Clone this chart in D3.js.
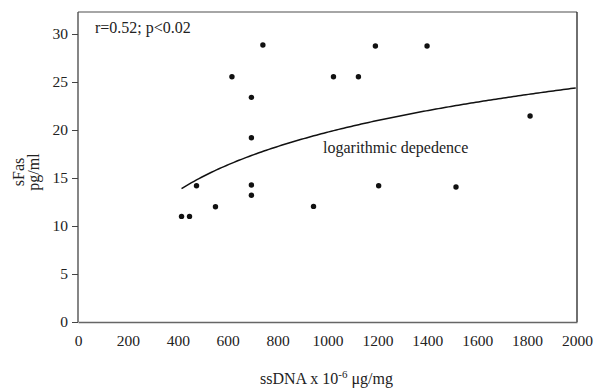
<!DOCTYPE html>
<html>
<head>
<meta charset="utf-8">
<script src="https://cdn.jsdelivr.net/npm/d3@7"></script>
<style>
  body { margin: 0; background: #fff; }
  svg text { font-family: "Liberation Serif", "Times New Roman", serif; fill: #222; }
</style>
</head>
<body>
<div id="chart"></div>
<script>
// values
const ssDNA = [415, 447, 475, 551, 617, 695, 695, 695, 695, 741, 944, 1024, 1124, 1192, 1205, 1399, 1515, 1812];
const sFas = [11, 11, 14.2, 12, 25.55, 23.4, 19.2, 14.27, 13.2, 28.85, 12.04, 25.55, 25.55, 28.75, 14.2, 28.75, 14.06, 21.46];
const xTicks = [0, 200, 400, 600, 800, 1000, 1200, 1400, 1600, 1800, 2000];
const yTicks = [0, 5, 10, 15, 20, 25, 30];
// logarithmic fit y = a + b*ln(x), coefficients
const fitA = -26.34;
const fitB = 6.675;
const fitRange = [415, 2000];

const width = 598, height = 390;
const margin = { top: 12, right: 21, bottom: 68, left: 78 };
const innerWidth = width - margin.left - margin.right;
const innerHeight = height - margin.top - margin.bottom;
const serif = '"Liberation Serif", "Times New Roman", serif';

const svg = d3.select('#chart')
  .append('svg')
  .attr('width', width)
  .attr('height', height);

const g = svg.append('g')
  .attr('transform', 'translate(' + margin.left + ',' + margin.top + ')');

const x = d3.scaleLinear().domain([0, 2000]).range([0, innerWidth]);
const y = d3.scaleLinear().domain([0, 30]).range([innerHeight, innerHeight - 288]);

// frame: top and right
g.append('line')
  .attr('x1', 0).attr('x2', innerWidth)
  .attr('y1', 0).attr('y2', 0)
  .attr('stroke', '#888').attr('stroke-width', 1.3);
g.append('line')
  .attr('x1', innerWidth).attr('x2', innerWidth)
  .attr('y1', 0).attr('y2', innerHeight)
  .attr('stroke', '#222').attr('stroke-width', 1.3);

// x axis
const xAxis = g.append('g')
  .attr('transform', 'translate(0,' + innerHeight + ')')
  .call(d3.axisBottom(x).tickValues(xTicks).tickFormat(d3.format('d')).tickSize(0).tickPadding(13))
  .attr('font-family', serif)
  .attr('font-size', 15.5);
xAxis.select('.domain').attr('stroke', '#666').attr('stroke-width', 1.3);
xAxis.selectAll('text').attr('fill', '#222');

// y axis
const yAxis = g.append('g')
  .call(d3.axisLeft(y).tickValues(yTicks).tickFormat(d3.format('d')).tickSize(6).tickSizeOuter(0).tickPadding(4))
  .attr('font-family', serif)
  .attr('font-size', 15.5);
yAxis.select('.domain').attr('d', 'M0,' + innerHeight + 'V0').attr('stroke', '#444').attr('stroke-width', 1.3);
yAxis.selectAll('.tick line').attr('stroke', '#444');
yAxis.selectAll('text').attr('fill', '#222');

// fit curve
const curveX = d3.range(fitRange[0], fitRange[1] + 1, 10);
const line = d3.line()
  .x(d => x(d))
  .y(d => y(fitA + fitB * Math.log(d)));
g.append('path')
  .datum(curveX)
  .attr('fill', 'none')
  .attr('stroke', '#111')
  .attr('stroke-width', 1.5)
  .attr('d', line);

// points
g.selectAll('.dot')
  .data(ssDNA.map((v, i) => ({ x: v, y: sFas[i] })))
  .enter()
  .append('circle')
  .attr('class', 'dot')
  .attr('cx', d => x(d.x))
  .attr('cy', d => y(d.y))
  .attr('r', 2.7)
  .attr('fill', '#111');

// annotations
g.append('text')
  .attr('x', 17).attr('y', 21)
  .style('font-size', '16px')
  .text('r=0.52; p<0.02');

g.append('text')
  .attr('x', 245).attr('y', 141)
  .style('font-size', '16px')
  .text('logarithmic depedence');

// axis titles
const xTitle = svg.append('text')
  .attr('x', 260).attr('y', 384)
  .style('font-size', '16px');
xTitle.append('tspan').text('ssDNA x 10');
xTitle.append('tspan').attr('dy', -6).style('font-size', '11px').text('-6');
xTitle.append('tspan').attr('dy', 6).text(' \u03bcg/mg');

const yTitle = svg.append('text')
  .attr('transform', 'translate(24,172) rotate(-90)')
  .attr('text-anchor', 'middle')
  .style('font-size', '16px');
yTitle.append('tspan').attr('x', 0).attr('y', 0).text('sFas');
yTitle.append('tspan').attr('x', 0).attr('y', 15).text('pg/ml');
</script>
</body>
</html>
